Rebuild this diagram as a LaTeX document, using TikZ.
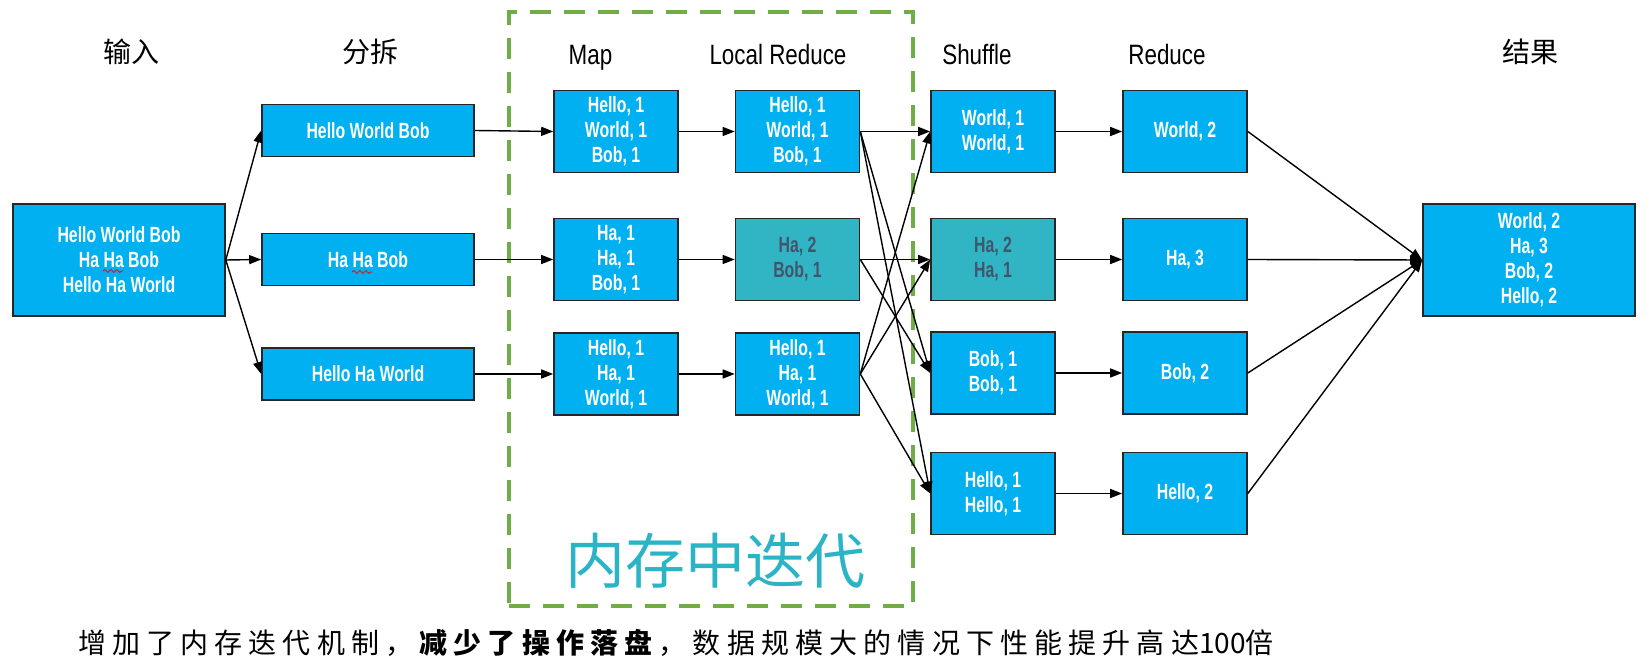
\documentclass[tikz,border=0pt]{standalone}
\usepackage{fontspec}
\setmainfont{Liberation Sans}
\newfontfamily\boxfont[FakeStretch=0.72]{Liberation Sans Bold}
\newfontfamily\hdrfont[FakeStretch=0.8]{Liberation Sans}
\newfontfamily\cjk{Noto Sans CJK SC}
\newfontfamily\cjkls[LetterSpace=22]{Noto Sans CJK SC}
\usetikzlibrary{arrows.meta,decorations.pathmorphing}
\definecolor{boxblue}{HTML}{00B0F0}
\definecolor{boxteal}{HTML}{31B5C5}
\definecolor{tealtext}{HTML}{44546A}
\definecolor{dashgreen}{HTML}{70AD47}
\definecolor{bigteal}{HTML}{2BB3C6}
\definecolor{edgecol}{HTML}{262626}
\begin{document}
\begin{tikzpicture}[x=0.5pt,y=-0.5pt,
  box/.style={draw=edgecol,line width=0.8pt,fill=boxblue,text=white,align=center,inner sep=0pt,font=\boxfont\fontsize{11}{12.5}\selectfont},
  wide/.style={box,minimum width=106pt,minimum height=26pt},
  small/.style={box,minimum width=62pt,minimum height=41pt},
  big/.style={box,minimum width=106pt,minimum height=56pt},
  hl/.style={fill=boxteal,text=tealtext},
  hdr/.style={anchor=base,font=\hdrfont\fontsize{14}{16}\selectfont},
  hdrc/.style={anchor=base,font=\cjk\fontsize{14}{16}\selectfont},
  arr/.style={-{Triangle[length=6pt,width=4.5pt]},line width=0.7pt,black},
  squig/.style={red,line width=0.4pt,decorate,decoration={snake,amplitude=0.7pt,segment length=3pt}}]
\useasboundingbox (0,0) rectangle (1649,667);

% frame
\node[draw=dashgreen,line width=2pt,dash pattern=on 10.5pt off 6.5pt,minimum width=202pt,minimum height=297pt,inner sep=0pt] (frame) at (711,309) {};

% headers
\node[hdrc] (h1) at (131.5,63) {输入};
\node[hdrc] (h2) at (370,63) {分拆};
\node[hdr] (h3) at (590.5,65) {Map};
\node[hdr] (h4) at (778,65) {Local Reduce};
\node[hdr] (h5) at (977,65) {Shuffle};
\node[hdr] (h6) at (1167,65) {Reduce};
\node[hdrc] (h7) at (1530,63) {结果};

% input
\node[big] (in) at (119,260) {Hello World Bob\\Ha Ha Bob\\Hello Ha World};
% split
\node[wide] (s1) at (368,130.5) {Hello World Bob};
\node[wide] (s2) at (368,259.5) {Ha Ha Bob};
\node[wide] (s3) at (368,374) {Hello Ha World};
% map
\node[small] (m1) at (616,131.5) {Hello, 1\\World, 1\\Bob, 1};
\node[small] (m2) at (616,259.5) {Ha, 1\\Ha, 1\\Bob, 1};
\node[small] (m3) at (616,374) {Hello, 1\\Ha, 1\\World, 1};
% local reduce
\node[small] (l1) at (797.5,131.5) {Hello, 1\\World, 1\\Bob, 1};
\node[small,hl] (l2) at (797.5,259.5) {Ha, 2\\Bob, 1};
\node[small] (l3) at (797.5,374) {Hello, 1\\Ha, 1\\World, 1};
% shuffle
\node[small] (u1) at (993,131.5) {World, 1\\World, 1};
\node[small,hl] (u2) at (993,259.5) {Ha, 2\\Ha, 1};
\node[small] (u3) at (993,373) {Bob, 1\\Bob, 1};
\node[small] (u4) at (993,493.5) {Hello, 1\\Hello, 1};
% reduce
\node[small] (r1) at (1185,131.5) {World, 2};
\node[small] (r2) at (1185,259.5) {Ha, 3};
\node[small] (r3) at (1185,373) {Bob, 2};
\node[small] (r4) at (1185,493.5) {Hello, 2};
% result
\node[big] (res) at (1529,260) {World, 2\\Ha, 3\\Bob, 2\\Hello, 2};

% spell-check squiggles
\draw[squig] (103,271) -- (123,271);
\draw[squig] (352,272) -- (372,272);

% arrows
\draw[arr] (in.east) -- (s1.west);
\draw[arr] (in.east) -- (s2.west);
\draw[arr] (in.east) -- (s3.west);
\draw[arr] (s1.east) -- (m1.west);
\draw[arr] (s2.east) -- (m2.west);
\draw[arr] (s3.east) -- (m3.west);
\draw[arr] (m1.east) -- (l1.west);
\draw[arr] (m2.east) -- (l2.west);
\draw[arr] (m3.east) -- (l3.west);
\draw[arr] (l1.east) -- (u1.west);
\draw[arr] (l1.east) -- (u3.west);
\draw[arr] (l1.east) -- (u4.west);
\draw[arr] (l2.east) -- (u2.west);
\draw[arr] (l2.east) -- (u3.west);
\draw[arr] (l3.east) -- (u1.west);
\draw[arr] (l3.east) -- (u2.west);
\draw[arr] (l3.east) -- (u4.west);
\draw[arr] (u1.east) -- (r1.west);
\draw[arr] (u2.east) -- (r2.west);
\draw[arr] (u3.east) -- (r3.west);
\draw[arr] (u4.east) -- (r4.west);
\draw[arr] (r1.east) -- (res.west);
\draw[arr] (r2.east) -- (res.west);
\draw[arr] (r3.east) -- (res.west);
\draw[arr] (r4.east) -- (res.west);

% texts
\node[font=\cjk\fontsize{30}{32}\selectfont,text=bigteal] (mem) at (715,561) {内存中迭代};
\node[anchor=west,font=\cjkls\fontsize{14}{16}\selectfont] (note) at (71,643) {增加了内存迭代机制，\textbf{减少了操作落盘}，数据规模大的情况下性能提升高达{\cjk 100}倍};
\end{tikzpicture}
\end{document}
